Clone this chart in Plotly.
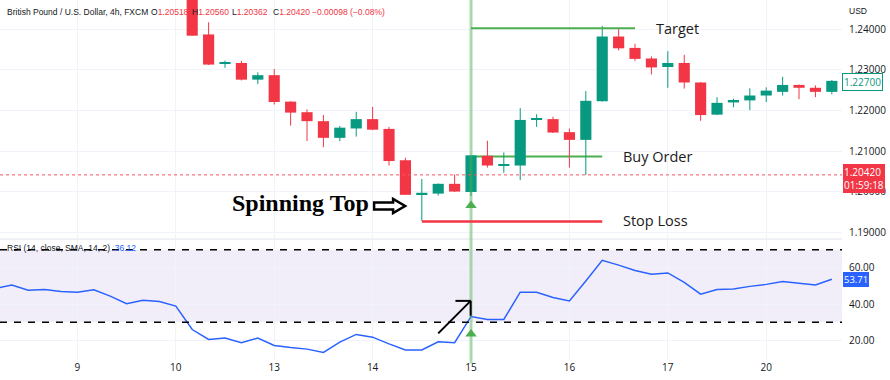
import plotly.graph_objects as go

# ---------------- data ----------------
candle_idx = list(range(1, 41))
opens  = [1.2490,1.2387,1.2315,1.2317,1.2276,1.2287,1.2222,1.2196,1.2174,1.2133,
          1.2156,1.2179,1.2155,1.2078,1.1995,1.1996,1.2020,1.2000,1.2089,1.2064,
          1.2065,1.2177,1.2179,1.2147,1.2128,1.2223,1.2382,1.2354,1.2328,1.2307,
          1.2317,1.2269,1.2190,1.2220,1.2225,1.2237,1.2246,1.2263,1.2256,1.2246]
highs  = [1.2510,1.2417,1.2323,1.2322,1.2294,1.2302,1.2223,1.2203,1.2189,1.2162,
          1.2197,1.2209,1.2160,1.2084,1.2032,1.2021,1.2043,1.2091,1.2126,1.2097,
          1.2206,1.2191,1.2185,1.2156,1.2248,1.2408,1.2400,1.2364,1.2333,1.2346,
          1.2337,1.2270,1.2233,1.2229,1.2255,1.2257,1.2283,1.2264,1.2262,1.2275]
lows   = [1.2384,1.2312,1.2305,1.2274,1.2265,1.2215,1.2163,1.2125,1.2110,1.2125,
          1.2136,1.2152,1.2065,1.1993,1.1929,1.1991,1.2000,1.1990,1.2060,1.2047,
          1.2029,1.2160,1.2145,1.2060,1.2042,1.2222,1.2348,1.2322,1.2289,1.2256,
          1.2254,1.2175,1.2189,1.2208,1.2201,1.2221,1.2237,1.2228,1.2233,1.2240]
closes = [1.2384,1.2313,1.2317,1.2276,1.2287,1.2221,1.2195,1.2174,1.2133,1.2158,
          1.2179,1.2153,1.2076,1.1993,1.1998,1.2020,1.2001,1.2090,1.2065,1.2066,
          1.2177,1.2180,1.2146,1.2128,1.2224,1.2382,1.2353,1.2327,1.2306,1.2317,
          1.2269,1.2189,1.2219,1.2226,1.2237,1.2249,1.2263,1.2256,1.2246,1.2273]

rsi_idx = list(range(-11, 41))
rsi_vals = [48.6,50.5,47.7,48.1,47.0,46.6,47.9,44.4,40.2,42.2,41.5,38.9,
            26.0,20.5,21.3,18.7,21.3,17.2,16.1,15.2,13.4,19.1,23.3,21.8,
            18.1,14.7,14.7,19.2,18.7,33.2,31.6,31.6,46.6,46.6,43.7,41.8,
            52.8,64.2,61.5,58.6,56.5,57.2,52.0,45.5,48.1,48.4,49.8,50.9,
            52.5,51.6,50.6,53.7]

tick_idx = [-6, 0, 6, 12, 18, 24, 30, 36]
tick_labels = ["9", "10", "13", "14", "15", "16", "17", "20"]
price_ticks = [1.19, 1.20, 1.21, 1.22, 1.23, 1.24]
rsi_ticks = [20, 40, 60]

header_title = "British Pound / U.S. Dollar, 4h, FXCM"
ohlc_keys = ["O", "H", "L", "C"]
ohlc_vals = ["1.20518", "1.20560", "1.20362", "1.20420"]
change_text = "−0.00098 (−0.08%)"

signal_idx = 18
target_price, buy_price, stop_price = 1.2402, 1.2087, 1.19275
last_price = 1.2042
last_close_label = 1.2270
rsi_last = 53.71

UP = "#089981"
DOWN = "#f23645"
FONT = "Open Sans, sans-serif"
HFONT = "Liberation Sans, Arial, sans-serif"
FS = 10
HFS = 8.5
TXT = "#131722"

# ---------------- figure ----------------
fig = go.Figure()

colors = [UP if c >= o else DOWN for o, c in zip(opens, closes)]

# wicks
for col in (UP, DOWN):
    xs, ys = [], []
    for i, o, h, l, c, cc in zip(candle_idx, opens, highs, lows, closes, colors):
        if cc == col:
            xs += [i, i, None]
            ys += [l, h, None]
    fig.add_trace(go.Scatter(x=xs, y=ys, mode="lines", line=dict(color=col, width=1),
                             xaxis="x2", yaxis="y", hoverinfo="skip", showlegend=False))

# bodies
fig.add_trace(go.Bar(
    x=candle_idx,
    base=[min(o, c) for o, c in zip(opens, closes)],
    y=[max(abs(c - o), 0.00025) for o, c in zip(opens, closes)],
    width=0.68, marker=dict(color=colors, line=dict(width=0)),
    xaxis="x2", yaxis="y", showlegend=False, hoverinfo="skip"))

# RSI line
fig.add_trace(go.Scatter(x=rsi_idx, y=rsi_vals, mode="lines",
                         line=dict(color="#2962ff", width=1.5),
                         xaxis="x", yaxis="y2", showlegend=False, hoverinfo="skip"))

# signal triangles
fig.add_trace(go.Scatter(x=[signal_idx], y=[1.19668], mode="markers",
                         marker=dict(symbol="triangle-up", size=10, color="#4caf50"),
                         xaxis="x2", yaxis="y", showlegend=False, hoverinfo="skip"))
fig.add_trace(go.Scatter(x=[signal_idx], y=[23.5], mode="markers",
                         marker=dict(symbol="triangle-up", size=10, color="#4caf50"),
                         xaxis="x", yaxis="y2", showlegend=False, hoverinfo="skip"))

xr = [-10.72, 40.62]
pr = [1.1887, 1.24717]
rr = [9.2, 75.3]

fig.update_layout(
    width=890, height=380,
    margin=dict(l=0, r=48, t=0, b=20),
    paper_bgcolor="white", plot_bgcolor="white",
    font=dict(family=FONT, size=FS, color=TXT),
    barmode="overlay",
    xaxis=dict(domain=[0, 1], anchor="y2", range=xr, tickvals=tick_idx, ticktext=tick_labels,
               showgrid=True, gridcolor="#f0f3fa", zeroline=False, showline=False, ticks="",
               tickfont=dict(size=FS, color=TXT)),
    xaxis2=dict(domain=[0, 1], anchor="y", range=xr, matches="x", tickvals=tick_idx,
                showticklabels=False, showgrid=True, gridcolor="#f0f3fa", zeroline=False, ticks=""),
    yaxis=dict(domain=[0.339, 1], anchor="x2", side="right", range=pr, tickvals=price_ticks,
               ticktext=[f"{v:.5f}" for v in price_ticks], showgrid=True, gridcolor="#f0f3fa",
               zeroline=False, ticks="outside", ticklen=4, tickcolor="rgba(0,0,0,0)",
               automargin=False, tickfont=dict(size=FS, color=TXT)),
    yaxis2=dict(domain=[0, 0.333], anchor="x", side="right", range=rr, tickvals=rsi_ticks,
                ticktext=[f"{v:.2f}" for v in rsi_ticks], showgrid=True, gridcolor="#f0f3fa",
                zeroline=False, ticks="outside", ticklen=4, tickcolor="rgba(0,0,0,0)",
                automargin=False, tickfont=dict(size=FS, color=TXT)),
)

shapes = []
# RSI band
shapes.append(dict(type="rect", xref="x domain", yref="y2", x0=0, x1=1, y0=30, y1=70,
                   fillcolor="rgba(126,87,194,0.1)", line=dict(width=0), layer="below"))
for lvl in (70, 30):
    shapes.append(dict(type="line", xref="x domain", yref="y2", x0=0, x1=1, y0=lvl, y1=lvl,
                       line=dict(color="#000000", width=1.5, dash="7px,7px")))
# pane separator
shapes.append(dict(type="line", xref="paper", yref="paper", x0=0, x1=1, y0=0.336, y1=0.336,
                   line=dict(color="#e0e3eb", width=1)))
# current price dotted line
shapes.append(dict(type="line", xref="x2 domain", yref="y", x0=0, x1=1, y0=last_price, y1=last_price,
                   line=dict(color="#f7525f", width=1, dash="dot")))
# vertical signal line
shapes.append(dict(type="line", xref="x", yref="paper", x0=signal_idx, x1=signal_idx, y0=-0.01, y1=1,
                   line=dict(color="rgba(76,175,80,0.45)", width=3)))
# target / buy / stop lines
shapes.append(dict(type="line", xref="x2", yref="y", x0=signal_idx, x1=28.0, y0=target_price, y1=target_price,
                   line=dict(color="#4caf50", width=2)))
shapes.append(dict(type="line", xref="x2", yref="y", x0=signal_idx, x1=26.0, y0=buy_price, y1=buy_price,
                   line=dict(color="#4caf50", width=2), layer="below"))
shapes.append(dict(type="line", xref="x2", yref="y", x0=15.0, x1=26.0, y0=stop_price, y1=stop_price,
                   line=dict(color="#f23645", width=2.5)))
# outline arrow after "Spinning Top"
shapes.append(dict(type="path", xref="x2", yref="y", xsizemode="pixel", ysizemode="pixel",
                   xanchor=12.09, yanchor=1.19656,
                   path="M0,-3.5 L19,-3.5 L19,-7 L31,0 L19,7 L19,3.5 L0,3.5 Z",
                   line=dict(color="#000000", width=2.5), fillcolor="white"))
# RSI arrow
shapes.append(dict(type="line", xref="x", yref="y2", x0=16.0, y0=23.9, x1=17.98, y1=41.8,
                   line=dict(color="#000000", width=2)))
shapes.append(dict(type="line", xref="x", yref="y2", x0=17.05, y0=41.8, x1=17.98, y1=41.8,
                   line=dict(color="#000000", width=2)))
shapes.append(dict(type="line", xref="x", yref="y2", x0=17.98, y0=41.8, x1=17.98, y1=33.6,
                   line=dict(color="#000000", width=2)))
fig.update_layout(shapes=shapes)

R = "#f23645"
HY = 1 - 12 / 360
hfont = dict(family=HFONT, size=HFS, color=TXT)
ann = []
ann.append(dict(xref="paper", yref="paper", x=0, y=HY, xanchor="left", yanchor="middle",
                xshift=5, text=header_title, showarrow=False, font=hfont))
for k, (key, val) in enumerate(zip(ohlc_keys, ohlc_vals)):
    ann.append(dict(xref="paper", yref="paper", x=0, y=HY, xanchor="left", yanchor="middle",
                    xshift=149 + 40.7 * k,
                    text="%s<span style='color:%s'>%s</span>" % (key, R, val),
                    showarrow=False, font=hfont))
ann.append(dict(xref="paper", yref="paper", x=0, y=HY, xanchor="left", yanchor="middle",
                xshift=310, text=change_text, showarrow=False,
                font=dict(family=HFONT, size=HFS, color=R)))
ann.append(dict(xref="paper", yref="paper", x=0, y=1 - 248 / 360, xanchor="left", yanchor="middle",
                xshift=5, text="RSI (14, close, SMA, 14, 2)&nbsp;&nbsp;<span style='color:#2962ff'>36.12</span>",
                showarrow=False, font=hfont))
ann.append(dict(xref="paper", yref="paper", x=1, y=1 - 11 / 360, xanchor="left", yanchor="middle",
                xshift=5, text="USD", showarrow=False, font=hfont))
# right-axis value boxes
ann.append(dict(xref="paper", yref="y", x=1, y=last_close_label, xanchor="left", yanchor="middle",
                text="1.22700", showarrow=False, font=dict(size=FS, color=UP),
                bgcolor="white", bordercolor=UP, borderwidth=1, borderpad=1))
ann.append(dict(xref="paper", yref="y", x=1, y=1.20335, xanchor="left", yanchor="middle",
                text="1.20420<br>01:59:18", showarrow=False, align="left",
                font=dict(size=FS, color="white"), bgcolor=DOWN, borderpad=1, borderwidth=0,
                xshift=1))
ann.append(dict(xref="paper", yref="y2", x=1, y=rsi_last, xanchor="left", yanchor="middle",
                text="53.71", showarrow=False, font=dict(size=9.5, color="white"),
                bgcolor="#2962ff", borderpad=1, borderwidth=0, xshift=1))
# chart labels
lab_font = dict(family="Open Sans, sans-serif", size=14.5, color="#1b1b1b")
ann.append(dict(xref="x2", yref="y", x=29.16, y=target_price, xanchor="left", yanchor="middle",
                text="Target", showarrow=False, font=lab_font))
ann.append(dict(xref="x2", yref="y", x=27.15, y=buy_price, xanchor="left", yanchor="middle",
                text="Buy Order", showarrow=False, font=lab_font))
ann.append(dict(xref="x2", yref="y", x=27.15, y=1.1930, xanchor="left", yanchor="middle",
                text="Stop Loss", showarrow=False, font=lab_font))
ann.append(dict(xref="x2", yref="y", x=3.30, y=1.1973, xanchor="left", yanchor="middle",
                text="<b>Spinning Top</b>", showarrow=False,
                font=dict(family="Liberation Serif, serif", size=24, color="#000000")))
fig.update_layout(annotations=ann)

fig.write_html("out.html", config={"displayModeBar": False},
               post_script="document.body.style.margin='0px';document.body.style.padding='0px';")
